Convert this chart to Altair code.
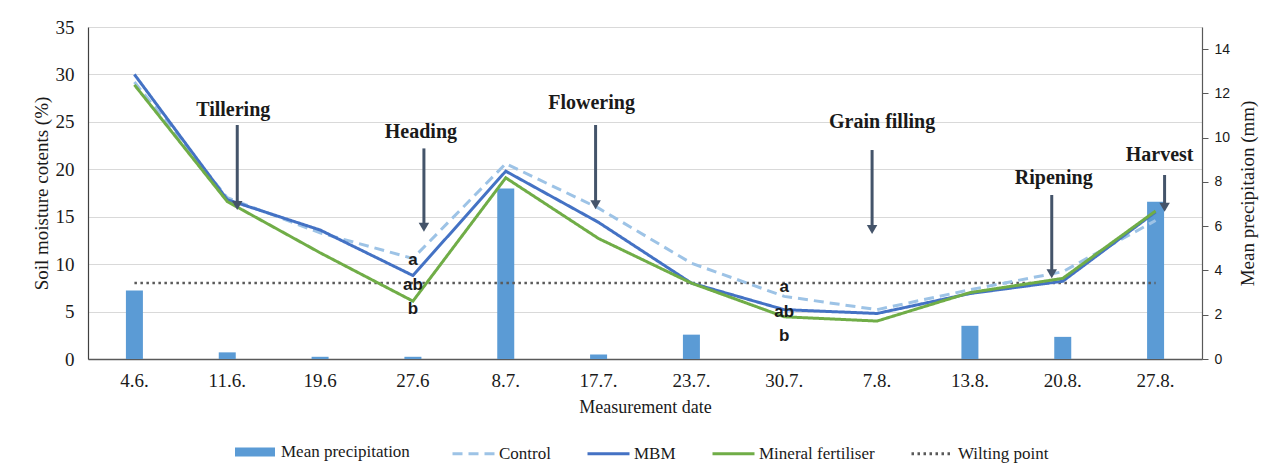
import altair as alt
import pandas as pd

# Measurement dates (category axis)
dates = ["4.6.", "11.6.", "19.6", "27.6", "8.7.", "17.7.", "23.7.", "30.7.",
         "7.8.", "13.8.", "20.8.", "27.8."]

# Mean precipitation (mm), right axis
precipitation = [3.1, 0.3, 0.1, 0.1, 7.7, 0.2, 1.1, 0.0, 0.0, 1.5, 1.0, 7.1]

# Soil moisture contents (%), left axis
control = [29.2, 17.0, 13.3, 10.6, 20.6, 15.9, 10.1, 6.6, 5.2, 7.3, 9.2, 14.6]
mbm = [30.0, 16.8, 13.6, 8.8, 19.8, 14.4, 8.0, 5.2, 4.8, 6.9, 8.2, 15.5]
mineral = [28.9, 16.6, 11.2, 6.1, 19.1, 12.7, 8.0, 4.45, 4.0, 7.0, 8.5, 15.6]
wilting_point = 8.0

# Significance letters
letters = ["a", "ab", "b", "a", "ab", "b"]
letter_dates = ["27.6", "27.6", "27.6", "30.7.", "30.7.", "30.7."]
letter_y = [10.4, 7.8, 5.3, 7.6, 5.0, 2.4]

# Growth stages with arrows
stages = ["Tillering", "Heading", "Flowering", "Grain filling", "Ripening", "Harvest"]
stage_dates = ["11.6.", "27.6", "17.7.", "7.8.", "20.8.", "27.8."]
stage_label_y = [26.25, 23.96, 27.04, 25.02, 19.05, 21.5]
arrow_top = [24.67, 22.2, 24.67, 22.03, 17.29, 19.4]
arrow_tip = [15.71, 13.42, 15.78, 13.18, 8.51, 15.53]
arrow_dx = [10, 11, -3, -5, -11, 9]
label_dx = [6, 8, -7, 5, -9, 4]

series_names = ["Control", "MBM", "Mineral fertiliser", "Wilting point"]
series_colors = ["#9DC3E6", "#4472C4", "#70AD47", "#595959"]
series_dash = [[10, 6], [1, 0], [1, 0], [2.5, 3.5]]

SERIF = "Liberation Serif"
SANS = "Liberation Sans"
TEXT = "#1a1a1a"
ARROW = "#44546A"

# Long table, drawn in this order: wilting point, control, MBM, mineral
lines_df = pd.DataFrame(
    [{"date": d, "value": wilting_point, "series": "Wilting point", "k": 0} for d in dates]
    + [{"date": d, "value": v, "series": "Control", "k": 1} for d, v in zip(dates, control)]
    + [{"date": d, "value": v, "series": "MBM", "k": 2} for d, v in zip(dates, mbm)]
    + [{"date": d, "value": v, "series": "Mineral fertiliser", "k": 3} for d, v in zip(dates, mineral)]
)
precip_df = pd.DataFrame({"date": dates, "precip": precipitation,
                          "label": ["Mean precipitation"] * len(dates)})
letters_df = pd.DataFrame({"date": letter_dates, "value": letter_y, "text": letters})

x_axis = alt.Axis(title="Measurement date", labelAngle=0, ticks=False, grid=False,
                  domainColor="#595959", domainWidth=1.5,
                  labelFont=SERIF, labelFontSize=19, labelColor=TEXT, labelPadding=12,
                  titleFont=SERIF, titleFontSize=18, titleFontWeight="normal",
                  titleColor=TEXT, titlePadding=8)
x_scale = alt.Scale(domain=dates, paddingInner=0, paddingOuter=0)


def xenc():
    return alt.X("date:N", scale=x_scale, axis=x_axis)


left_axis = alt.Axis(title="Soil moisture cotents (%)", orient="left",
                     values=[0, 5, 10, 15, 20, 25, 30, 35], ticks=False,
                     grid=True, gridColor="#D9D9D9", gridWidth=1,
                     domainColor="#404040", domainWidth=1.2,
                     labelFont=SERIF, labelFontSize=19, labelColor=TEXT, labelPadding=14,
                     titleFont=SERIF, titleFontSize=19, titleFontWeight="normal",
                     titleColor=TEXT, titlePadding=4)
# Every left-axis layer uses this same domain, so their scales coincide
LEFT_DOMAIN = [0, 35]


def yleft(field="value", axis=None):
    return alt.Y(f"{field}:Q", scale=alt.Scale(domain=LEFT_DOMAIN, nice=False), axis=axis)


right_axis = alt.Axis(title="Mean precipitaion (mm)", orient="right",
                      values=[0, 2, 4, 6, 8, 10, 12, 14], grid=False,
                      ticks=True, tickSize=6, tickColor="#595959",
                      domainColor="#595959", domainWidth=1.2,
                      labelFont=SANS, labelFontSize=14, labelColor=TEXT, labelPadding=6,
                      titleFont=SERIF, titleFontSize=19, titleFontWeight="normal",
                      titleColor=TEXT, titleAngle=270, titlePadding=28)

bars = alt.Chart(precip_df).mark_bar(width=17).encode(
    x=xenc(),
    y=alt.Y("precip:Q", scale=alt.Scale(domain=[0, 15], nice=False), axis=right_axis),
    fill=alt.Fill("label:N", scale=alt.Scale(domain=["Mean precipitation"], range=["#5B9BD5"]),
                  legend=alt.Legend(title=None, orient="none", legendX=147, legendY=405,
                                    direction="horizontal", padding=0,
                                    symbolType="M-1,-0.22H1V0.22H-1Z", symbolSize=1600,
                                    symbolStrokeWidth=0, labelOffset=6,
                                    labelFont=SERIF, labelFontSize=17,
                                    labelFontWeight="normal", labelColor=TEXT)),
)

line_legend = alt.Legend(title=None, orient="none", legendX=363, legendY=404,
                         direction="horizontal", padding=0,
                         symbolType="stroke", symbolSize=1764, symbolStrokeWidth=3,
                         labelOffset=3, columnPadding=30,
                         labelFont=SERIF, labelFontSize=17,
                         labelFontWeight="normal", labelColor=TEXT)

lines = alt.Chart(lines_df).mark_line().encode(
    x=xenc(), y=yleft(axis=left_axis),
    stroke=alt.Stroke("series:N", scale=alt.Scale(domain=series_names, range=series_colors),
                      legend=line_legend),
    strokeDash=alt.StrokeDash("series:N", scale=alt.Scale(domain=series_names, range=series_dash),
                              legend=line_legend),
    strokeWidth=alt.condition(alt.datum.series == "Wilting point", alt.value(2.5), alt.value(3)),
    order=alt.Order("k:Q"),
)

letter_marks = alt.Chart(letters_df).mark_text(
    font=SANS, fontWeight="bold", fontSize=17, color=TEXT, baseline="middle"
).encode(x=xenc(), y=yleft(), text="text:N")

stage_layers = []
for name, d, ly, top, tip, adx, ldx in zip(stages, stage_dates, stage_label_y,
                                           arrow_top, arrow_tip, arrow_dx, label_dx):
    sdf = pd.DataFrame({"date": [d], "value": [ly], "top": [top], "tip": [tip], "stage": [name]})
    base = alt.Chart(sdf)
    stage_layers.append(base.mark_text(font=SERIF, fontWeight="bold", fontSize=20,
                                       color=TEXT, baseline="middle", dx=ldx)
                        .encode(x=xenc(), y=yleft(), text="stage:N"))
    stage_layers.append(base.mark_rule(color=ARROW, strokeWidth=3, xOffset=adx, y2Offset=-6)
                        .encode(x=xenc(), y=yleft("top"), y2=alt.Y2("tip:Q")))
    stage_layers.append(base.mark_point(shape="triangle-down", filled=True, size=110,
                                        color=ARROW, opacity=1, xOffset=adx, yOffset=-4.5)
                        .encode(x=xenc(), y=yleft("tip")))

chart = alt.layer(bars, lines, letter_marks, *stage_layers).resolve_scale(
    y="independent"
).properties(
    width=1114, height=332,
    autosize=alt.AutoSizeParams(type="none"),
    padding={"left": 88, "top": 27, "right": 74, "bottom": 111},
    background="white",
).configure_view(stroke=None).configure_legend(
    labelFont=SERIF, labelFontSize=17, labelFontWeight="normal", labelColor=TEXT
)

chart.save("out.html", embed_options={"renderer": "svg", "actions": False})
